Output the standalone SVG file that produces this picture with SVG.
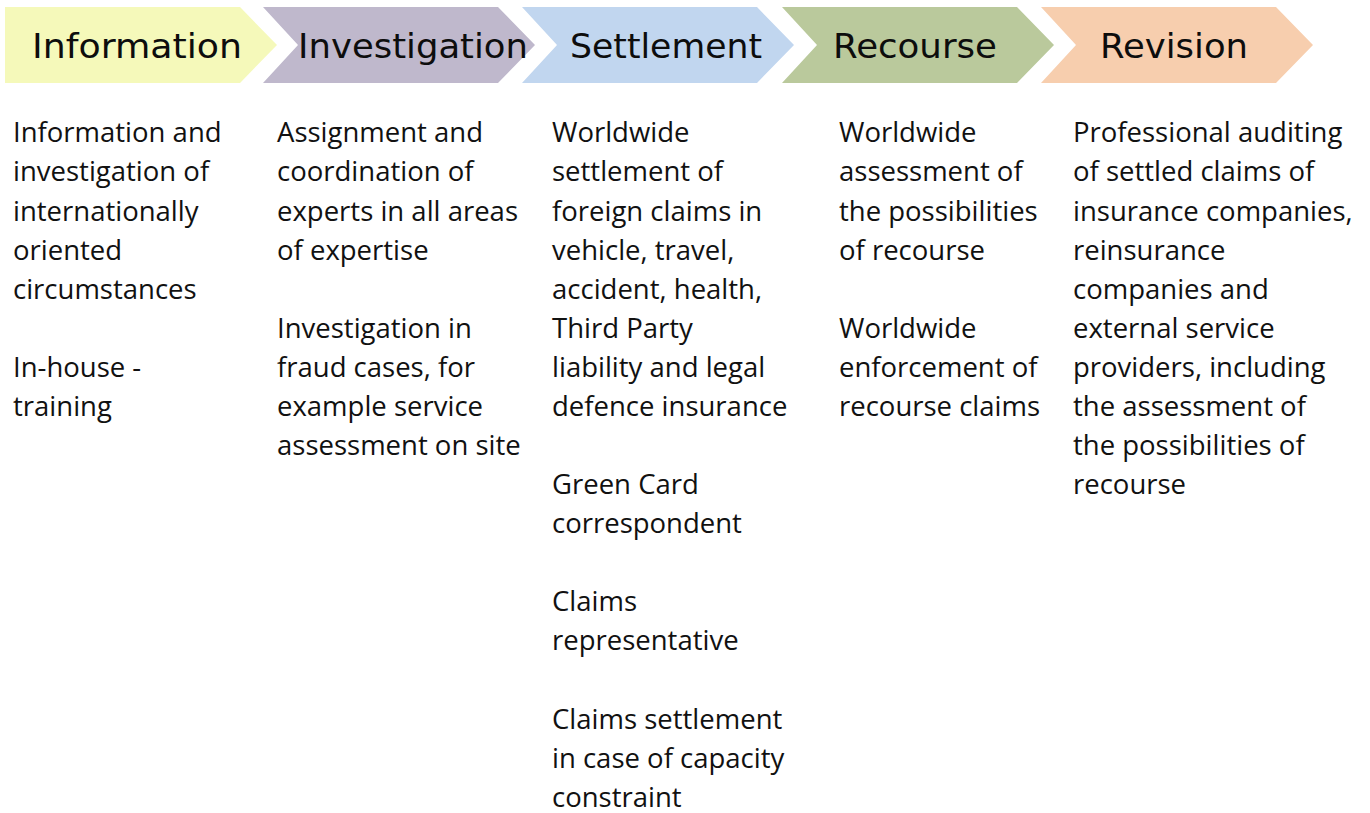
<svg xmlns="http://www.w3.org/2000/svg" width="1370" height="813" viewBox="0 0 1370 813">
<style>
.hd{font-family:"DejaVu Sans",Verdana,sans-serif;font-size:34px;fill:#0d0d0d;text-anchor:middle}
.bd{font-family:"Open Sans","Noto Sans",sans-serif;font-size:27.5px;fill:#111}
</style>
<rect width="1370" height="813" fill="#ffffff"/>
<g id="information">
<polygon points="5,7 240,7 277,45 240,83 5,83" fill="#F5F9BA"/>
<text class="hd" x="137" y="58" textLength="210" lengthAdjust="spacingAndGlyphs">Information</text>
<text class="bd" x="13">
<tspan x="13" y="142">Information and</tspan>
<tspan x="13" y="181">investigation of</tspan>
<tspan x="13" y="221">internationally</tspan>
<tspan x="13" y="260">oriented</tspan>
<tspan x="13" y="299">circumstances</tspan>
<tspan x="13" y="377">In-house -</tspan>
<tspan x="13" y="416">training</tspan>
</text>
</g>
<g id="investigation">
<polygon points="263,7 498,7 535,45 498,83 263,83 298,45" fill="#BFB8CC"/>
<text class="hd" x="413" y="58" textLength="230" lengthAdjust="spacingAndGlyphs">Investigation</text>
<text class="bd">
<tspan x="277" y="142">Assignment and</tspan>
<tspan x="277" y="181">coordination of</tspan>
<tspan x="277" y="221">experts in all areas</tspan>
<tspan x="277" y="260">of expertise</tspan>
<tspan x="277" y="338">Investigation in</tspan>
<tspan x="277" y="377">fraud cases, for</tspan>
<tspan x="277" y="416">example service</tspan>
<tspan x="277" y="455">assessment on site</tspan>
</text>
</g>
<g id="settlement">
<polygon points="522,7 757,7 794,45 757,83 522,83 557,45" fill="#C1D6EF"/>
<text class="hd" x="666" y="58" textLength="192" lengthAdjust="spacingAndGlyphs">Settlement</text>
<text class="bd">
<tspan x="552" y="142">Worldwide</tspan>
<tspan x="552" y="181">settlement of</tspan>
<tspan x="552" y="221">foreign claims in</tspan>
<tspan x="552" y="260">vehicle, travel,</tspan>
<tspan x="552" y="299">accident, health,</tspan>
<tspan x="552" y="338">Third Party</tspan>
<tspan x="552" y="377">liability and legal</tspan>
<tspan x="552" y="416">defence insurance</tspan>
<tspan x="552" y="494">Green Card</tspan>
<tspan x="552" y="533">correspondent</tspan>
<tspan x="552" y="611">Claims</tspan>
<tspan x="552" y="650">representative</tspan>
<tspan x="552" y="729">Claims settlement</tspan>
<tspan x="552" y="768">in case of capacity</tspan>
<tspan x="552" y="807">constraint</tspan>
</text>
</g>
<g id="recourse">
<polygon points="782,7 1017,7 1054,45 1017,83 782,83 817,45" fill="#BAC99C"/>
<text class="hd" x="915" y="58" textLength="164" lengthAdjust="spacingAndGlyphs">Recourse</text>
<text class="bd">
<tspan x="839" y="142">Worldwide</tspan>
<tspan x="839" y="181">assessment of</tspan>
<tspan x="839" y="221">the possibilities</tspan>
<tspan x="839" y="260">of recourse</tspan>
<tspan x="839" y="338">Worldwide</tspan>
<tspan x="839" y="377">enforcement of</tspan>
<tspan x="839" y="416">recourse claims</tspan>
</text>
</g>
<g id="revision">
<polygon points="1041,7 1276,7 1313,45 1276,83 1041,83 1076,45" fill="#F7CEAE"/>
<text class="hd" x="1174" y="58" textLength="148" lengthAdjust="spacingAndGlyphs">Revision</text>
<text class="bd">
<tspan x="1073" y="142">Professional auditing</tspan>
<tspan x="1073" y="181">of settled claims of</tspan>
<tspan x="1073" y="221">insurance companies,</tspan>
<tspan x="1073" y="260">reinsurance</tspan>
<tspan x="1073" y="299">companies and</tspan>
<tspan x="1073" y="338">external service</tspan>
<tspan x="1073" y="377">providers, including</tspan>
<tspan x="1073" y="416">the assessment of</tspan>
<tspan x="1073" y="455">the possibilities of</tspan>
<tspan x="1073" y="494">recourse</tspan>
</text>
</g>
<g id="connectors"></g>
</svg>
